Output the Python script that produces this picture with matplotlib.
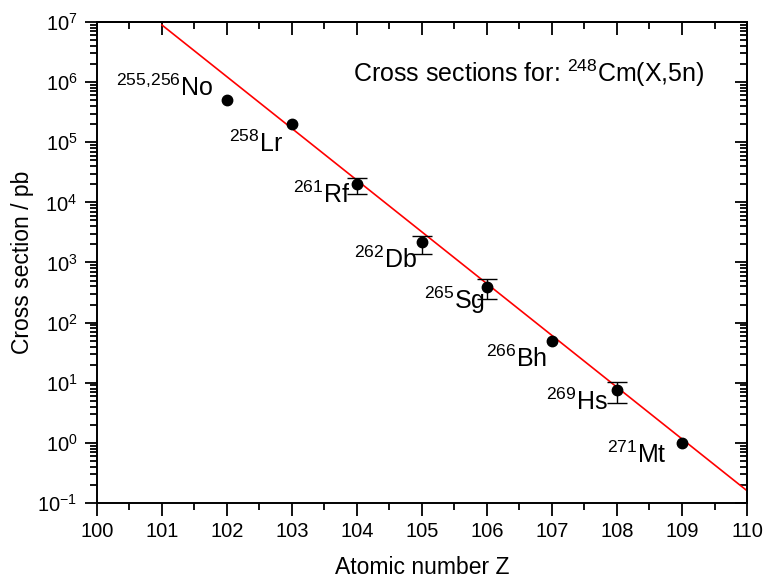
import matplotlib.pyplot as plt
from matplotlib.ticker import MultipleLocator, LogLocator, NullFormatter

plt.rcParams['font.family'] = ['Liberation Sans', 'DejaVu Sans']
plt.rcParams['mathtext.fontset'] = 'custom'
plt.rcParams['mathtext.rm'] = 'Liberation Sans'
plt.rcParams['mathtext.it'] = 'Liberation Sans:italic'
plt.rcParams['mathtext.bf'] = 'Liberation Sans:bold'
plt.rcParams['mathtext.default'] = 'regular'

# measured cross sections (pb)
Z = [102, 103, 104, 105, 106, 107, 108, 109]
sigma = [5.0e5, 2.0e5, 2.0e4, 2.2e3, 3.9e2, 50, 7.5, 1.0]
err_lo = [0, 0, 0.6e4, 0.8e3, 1.4e2, 0, 2.9, 0]
err_hi = [0, 0, 0.5e4, 0.6e3, 1.4e2, 0, 2.9, 0]

# fitted line (end points)
fit_z = [101, 110]
fit_sigma = [8.9e6, 0.16]

# isotope labels: mass number, symbol, right end / baseline of the text
iso_mass = ['255{,}256', '258', '261', '262', '265', '266', '269', '271']
iso_sym = ['No', 'Lr', 'Rf', 'Db', 'Sg', 'Bh', 'Hs', 'Mt']
lab_x = [101.78, 102.86, 103.89, 104.92, 105.97, 106.92, 107.86, 108.77]
lab_y = [5.9e5, 6.9e4, 9.8e3, 8.2e2, 1.7e2, 18, 3.5, 0.46]

fig = plt.figure(figsize=(7.66, 5.79), dpi=100)
ax = fig.add_axes([0.1266, 0.1313, 0.8486, 0.8307])

ax.plot(fit_z, fit_sigma, color='red', linewidth=1.2, zorder=1)

# error bars only where an error is given
has_err = [i for i in range(len(Z)) if err_lo[i] > 0 or err_hi[i] > 0]
ax.errorbar([Z[i] for i in has_err], [sigma[i] for i in has_err],
            yerr=[[err_lo[i] for i in has_err], [err_hi[i] for i in has_err]],
            fmt='none', ecolor='black', elinewidth=1, capsize=7, capthick=1,
            zorder=2)
ax.plot(Z, sigma, 'o', color='black', markersize=7.5, zorder=3)

for m, s, x, y in zip(iso_mass, iso_sym, lab_x, lab_y):
    ax.text(x, y, r'$^{%s}$%s' % (m, s), fontsize=18, ha='right',
            va='baseline')

ax.text(0.394, 0.875, r'Cross sections for: $^{248}$Cm(X,5n)',
        transform=ax.transAxes, fontsize=18, ha='left', va='baseline')

ax.set_yscale('log')
ax.set_xlim(100, 110)
ax.set_ylim(1e-1, 1e7)

ax.xaxis.set_major_locator(MultipleLocator(1))
ax.xaxis.set_minor_locator(MultipleLocator(0.5))
ax.yaxis.set_major_locator(LogLocator(base=10, numticks=20))
ax.yaxis.set_minor_locator(LogLocator(base=10, subs=range(2, 10), numticks=100))
ax.yaxis.set_minor_formatter(NullFormatter())
ax.tick_params(which='both', direction='out', labelsize=14.5, width=1.3)
ax.tick_params(which='major', length=9, pad=5)
ax.tick_params(which='minor', length=5)

# mirrored ticks on top / right pointing into the frame
top = ax.secondary_xaxis('top')
top.xaxis.set_major_locator(MultipleLocator(1))
top.xaxis.set_minor_locator(MultipleLocator(0.5))
top.tick_params(which='both', direction='in', labeltop=False, width=1.3)
top.tick_params(which='major', length=9)
top.tick_params(which='minor', length=5)
right = ax.secondary_yaxis('right')
right.yaxis.set_major_locator(LogLocator(base=10, numticks=20))
right.yaxis.set_minor_locator(LogLocator(base=10, subs=range(2, 10), numticks=100))
right.tick_params(which='both', direction='in', labelright=False, width=1.3)
right.tick_params(which='major', length=9)
right.tick_params(which='minor', length=5)

for a in (ax, top, right):
    for sp in a.spines.values():
        sp.set_linewidth(1.4)

ax.set_xlabel('Atomic number Z', fontsize=16.5, va='center')
ax.set_ylabel('Cross section / pb', fontsize=16.5, va='center')
ax.xaxis.set_label_coords(0.5, -0.135)
ax.yaxis.set_label_coords(-0.115, 0.5)

fig.savefig('out.png', dpi=100)
